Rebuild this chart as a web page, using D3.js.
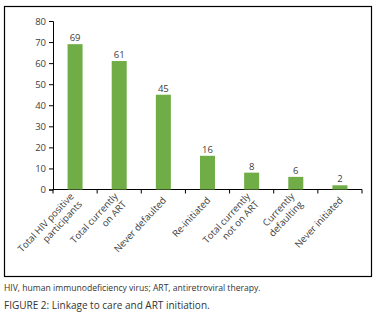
<!DOCTYPE html>
<html>
<head>
<meta charset="utf-8">
<script src="https://cdn.jsdelivr.net/npm/d3@7"></script>
<style>
  body { margin: 0; background: #fff; }
  text { font-family: "Open Sans", sans-serif; }
</style>
</head>
<body>
<div class="container"></div>
<script>
// data
var categories = [
  ["Total HIV positive", "participants"],
  ["Total currently", "on ART"],
  ["Never defaulted"],
  ["Re-initiated"],
  ["Total currently", "not on ART"],
  ["Currently", "defaulting"],
  ["Never initiated"]
];
var counts = [69, 61, 45, 16, 8, 6, 2];
var yTicks = [0, 10, 20, 30, 40, 50, 60, 70, 80];

var svgWidth = 379;
var svgHeight = 320;

// chart area
var margin = { top: 21, left: 53, right: 17, bottom: 130.5 };
var width = svgWidth - margin.left - margin.right;
var height = svgHeight - margin.top - margin.bottom;

var svg = d3.select(".container")
  .append("svg")
  .attr("width", svgWidth)
  .attr("height", svgHeight);

// outer frame
svg.append("rect")
  .attr("x", 4.5)
  .attr("y", 6.5)
  .attr("width", 367)
  .attr("height", 270)
  .attr("fill", "none")
  .attr("stroke", "#000")
  .attr("stroke-width", 1.2);

var chartGroup = svg.append("g")
  .attr("transform", `translate(${margin.left}, ${margin.top})`);

var idx = d3.range(counts.length);

var xScale = d3.scaleBand()
  .domain(idx)
  .range([0, width])
  .paddingInner(0.66)
  .paddingOuter(0.33);

var xTickScale = d3.scaleLinear()
  .domain([0, counts.length])
  .range([0, width]);

var yScale = d3.scaleLinear()
  .domain([0, 80])
  .range([height, 0]);

// y axis
var leftAxis = d3.axisLeft(yScale)
  .tickValues(yTicks)
  .tickSize(4)
  .tickPadding(3);

var yAxis = chartGroup.append("g").call(leftAxis);
yAxis.select(".domain").attr("stroke", "#000");
yAxis.selectAll("line").attr("stroke", "#000");
yAxis.selectAll("text")
  .attr("fill", "#404040")
  .style("font-size", "9.5px");

// x axis line and ticks between categories
var xAxis = chartGroup.append("g")
  .attr("transform", `translate(0, ${height})`);

xAxis.append("line")
  .attr("x1", 0)
  .attr("x2", width)
  .attr("stroke", "#000");

xAxis.selectAll(".tick")
  .data(d3.range(counts.length + 1))
  .enter()
  .append("line")
  .attr("x1", d => xTickScale(d))
  .attr("x2", d => xTickScale(d))
  .attr("y1", 0)
  .attr("y2", 4)
  .attr("stroke", "#000");

// bars
chartGroup.selectAll(".bar")
  .data(counts)
  .enter()
  .append("rect")
  .attr("class", "bar")
  .attr("x", (d, i) => xScale(i))
  .attr("y", d => yScale(d))
  .attr("width", xScale.bandwidth())
  .attr("height", d => height - yScale(d))
  .attr("fill", "#70ad47");

// value labels
chartGroup.selectAll(".value")
  .data(counts)
  .enter()
  .append("text")
  .attr("x", (d, i) => xScale(i) + xScale.bandwidth() / 2)
  .attr("y", d => yScale(d) - 3)
  .attr("text-anchor", "middle")
  .attr("fill", "#404040")
  .style("font-size", "9.5px")
  .text(d => d);

// category labels, rotated
var labels = chartGroup.selectAll(".cat")
  .data(categories)
  .enter()
  .append("text")
  .attr("class", "cat")
  .attr("transform", (d, i) => `translate(${xScale(i) + xScale.bandwidth() / 2 + 1}, ${height + 9}) rotate(-47)`)
  .attr("text-anchor", "end")
  .attr("fill", "#404040")
  .style("font-size", "9.5px");

labels.selectAll("tspan")
  .data(d => d.map((t, j) => ({ t: t, j: j, n: d.length })))
  .enter()
  .append("tspan")
  .attr("x", 0)
  .attr("y", d => (d.j - (d.n - 1) / 2) * 11.5)
  .attr("dy", "0.35em")
  .text(d => d.t);

// caption
svg.append("text")
  .attr("x", 4)
  .attr("y", 291)
  .attr("fill", "#333")
  .style("font-size", "8.6px")
  .text("HIV, human immunodeficiency virus; ART, antiretroviral therapy.");

svg.append("text")
  .attr("x", 4)
  .attr("y", 309)
  .attr("fill", "#333")
  .style("font-size", "10px")
  .text("FIGURE 2: Linkage to care and ART initiation.");
</script>
</body>
</html>
